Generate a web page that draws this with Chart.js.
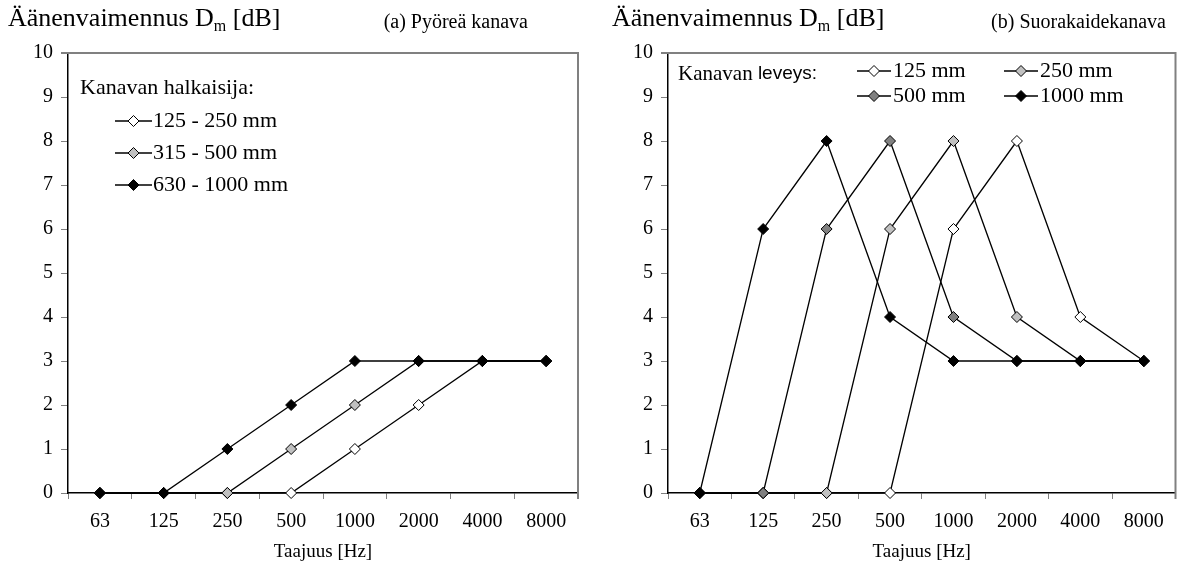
<!DOCTYPE html>
<html>
<head>
<meta charset="utf-8">
<script src="https://cdn.jsdelivr.net/npm/chart.js@4.4.0/dist/chart.umd.min.js"></script>
<style>
html, body { margin: 0; padding: 0; background: #fff; width: 1180px; height: 572px; overflow: hidden; }
canvas { position: absolute; top: 0; }
#chartA { left: 0; }
#chartB { left: 590px; }
.txt { position: absolute; font-family: 'Liberation Serif', serif; color: #000; white-space: nowrap; line-height: 1; }
.big { font-size: 26px; top: 5px; }
.big sub { font-size: 16px; vertical-align: -5px; line-height: 0; }
.small { font-size: 20px; top: 11px; }
</style>
</head>
<body>
<canvas id="chartA" width="590" height="572"></canvas>
<canvas id="chartB" width="592" height="572"></canvas>
<div class="txt big" style="left:8px">Äänenvaimennus D<sub>m</sub> [dB]</div>
<div class="txt small" style="right:652px">(a) Pyöreä kanava</div>
<div class="txt big" style="left:612px">Äänenvaimennus D<sub>m</sub> [dB]</div>
<div class="txt small" style="right:14px">(b) Suorakaidekanava</div>
<script>
// octave band centre frequencies
const freqLabels = ['63', '125', '250', '500', '1000', '2000', '4000', '8000']

// (a) round duct, by diameter
const roundLabels = ['125 - 250 mm', '315 - 500 mm', '630 - 1000 mm']
const round125 = [0, 0, 0, 0, 1, 2, 3, 3]
const round315 = [0, 0, 0, 1, 2, 3, 3, 3]
const round630 = [0, 0, 1, 2, 3, 3, 3, 3]

// (b) rectangular duct, by width
const rectLabels = ['125 mm', '250 mm', '500 mm', '1000 mm']
const rect125 = [0, 0, 0, 0, 6, 8, 4, 3]
const rect250 = [0, 0, 0, 6, 8, 4, 3, 3]
const rect500 = [0, 0, 6, 8, 4, 3, 3, 3]
const rect1000 = [0, 6, 8, 4, 3, 3, 3, 3]

const yMin = 0
const yMax = 10

Chart.defaults.font.family = "'Liberation Serif', serif"
Chart.defaults.color = '#000'

const SERIF = "'Liberation Serif', serif"
const SANS = "'Liberation Sans', Arial, sans-serif"

function series(label, data, fill, order) {
    return {
        label: label,
        data: data,
        borderColor: '#000',
        borderWidth: 1.3,
        backgroundColor: fill,
        pointStyle: 'rectRot',
        pointRadius: 5.5,
        pointHoverRadius: 5.5,
        pointBackgroundColor: fill,
        pointBorderColor: '#000',
        pointBorderWidth: 1,
        tension: 0,
        clip: false,
        order: order,
    }
}

function swatch(ctx, fill, x, y, len) {
    ctx.strokeStyle = '#000'
    ctx.lineWidth = 1.3
    ctx.beginPath()
    ctx.moveTo(x, y)
    ctx.lineTo(x + len, y)
    ctx.stroke()
    ctx.fillStyle = fill
    ctx.lineWidth = 1
    Chart.helpers.drawPoint(ctx, { pointStyle: 'rectRot', radius: 5.5, borderWidth: 1 }, x + len / 2, y)
}

// grey frame on the top and right of the plot area
const frame = {
    id: 'frame',
    beforeDatasetsDraw(chart) {
        const { ctx, chartArea: a } = chart
        ctx.save()
        ctx.strokeStyle = '#808080'
        ctx.lineWidth = 2
        ctx.beginPath()
        ctx.moveTo(a.left - 7, a.top)
        ctx.lineTo(a.right, a.top)
        ctx.lineTo(a.right, a.bottom + 6)
        ctx.stroke()
        ctx.restore()
    }
}

const legendA = {
    id: 'legendA',
    afterDraw(chart) {
        const ctx = chart.ctx
        ctx.save()
        ctx.textBaseline = 'middle'
        ctx.font = '22px ' + SERIF
        ctx.fillStyle = '#000'
        ctx.fillText('Kanavan halkaisija:', 80, 88)
        chart.data.datasets.forEach((ds, i) => {
            const y = 121 + i * 32
            swatch(ctx, ds.pointBackgroundColor, 115, y, 37)
            ctx.fillStyle = '#000'
            ctx.fillText(ds.label, 153, y)
        })
        ctx.restore()
    }
}

const legendB = {
    id: 'legendB',
    afterDraw(chart) {
        const ctx = chart.ctx
        ctx.save()
        ctx.textBaseline = 'middle'
        ctx.fillStyle = '#000'
        ctx.font = '21px ' + SERIF
        ctx.fillText('Kanavan ', 88, 74)
        const w = ctx.measureText('Kanavan ').width
        ctx.font = '19px ' + SANS
        ctx.fillText('leveys:', 88 + w, 74)
        ctx.font = '22px ' + SERIF
        chart.data.datasets.forEach((ds, i) => {
            const x = i % 2 === 0 ? 267 : 414
            const y = i < 2 ? 71 : 96
            swatch(ctx, ds.pointBackgroundColor, x, y, 34)
            ctx.fillStyle = '#000'
            ctx.fillText(ds.label, x + 36, y)
        })
        ctx.restore()
    }
}

function options(yWidth, padRight) {
    return {
        responsive: false,
        animation: false,
        events: [],
        layout: { padding: { top: 53, right: padRight, left: 0, bottom: 0 } },
        plugins: { legend: { display: false }, tooltip: { enabled: false } },
        scales: {
            x: {
                type: 'category',
                offset: true,
                grid: { offset: true, drawOnChartArea: false, drawTicks: true, tickLength: 6, color: '#808080' },
                border: { color: '#000', width: 1.5 },
                ticks: { font: { size: 20 }, padding: 11, maxRotation: 0, autoSkip: false },
                title: { display: true, text: 'Taajuus [Hz]', font: { size: 19 }, padding: { top: 0, bottom: 9 } },
                afterFit: (s) => { s.height = 79 },
            },
            y: {
                min: yMin,
                max: yMax,
                grid: { drawOnChartArea: false, drawTicks: true, tickLength: 7, color: '#808080' },
                border: { color: '#000', width: 1.5 },
                ticks: { stepSize: 1, font: { size: 20 }, padding: 8 },
                afterFit: (s) => { s.width = yWidth },
            },
        },
    }
}

new Chart(document.getElementById('chartA'), {
    type: 'line',
    data: {
        labels: freqLabels,
        datasets: [
            series(roundLabels[0], round125, '#ffffff', 2),
            series(roundLabels[1], round315, '#c0c0c0', 1),
            series(roundLabels[2], round630, '#000000', 0),
        ]
    },
    options: options(68, 12),
    plugins: [frame, legendA],
})

new Chart(document.getElementById('chartB'), {
    type: 'line',
    data: {
        labels: freqLabels,
        datasets: [
            series(rectLabels[0], rect125, '#ffffff', 3),
            series(rectLabels[1], rect250, '#c0c0c0', 2),
            series(rectLabels[2], rect500, '#808080', 1),
            series(rectLabels[3], rect1000, '#000000', 0),
        ]
    },
    options: options(78, 1),
    plugins: [frame, legendB],
})
</script>
</body>
</html>
